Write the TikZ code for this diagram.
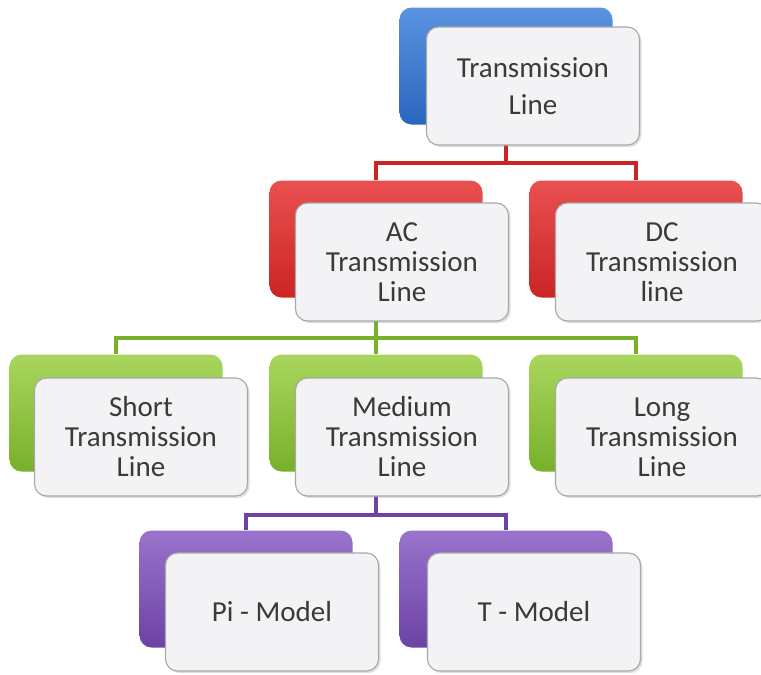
\documentclass[tikz,border=0pt]{standalone}
\usepackage{fontspec}
\setmainfont{Carlito}
\usetikzlibrary{positioning, shadows}

\definecolor{tlblue}{HTML}{2A66BE}
\definecolor{tlbluetop}{HTML}{5A93E0}
\definecolor{tlred}{HTML}{CC2424}
\definecolor{tlredtop}{HTML}{EA5050}
\definecolor{tlgreen}{HTML}{78B02A}
\definecolor{tlgreentop}{HTML}{A9D65E}
\definecolor{tlpurple}{HTML}{6C42A4}
\definecolor{tlpurpletop}{HTML}{9A73CC}
\definecolor{paper}{HTML}{F3F3F5}
\definecolor{framegray}{HTML}{A8A8A8}
\definecolor{ink}{HTML}{3A3A3A}

\begin{document}
\begin{tikzpicture}[
    x=1pt, y=-1pt,
    back/.style={rounded corners=12pt, minimum width=213pt,
        minimum height=117pt, inner sep=0pt},
    front/.style={draw=framegray, line width=1.1pt, fill=paper,
        rounded corners=12pt, minimum width=213pt, minimum height=118pt,
        align=center, text=ink, font=\fontsize{29}{30}\selectfont,
        drop shadow={opacity=0.25, shadow xshift=2pt, shadow yshift=-2pt}},
    link/.style={line width=3.6pt}
  ]
  \path[use as bounding box, fill=white] (0,0) rectangle (761,675);

  % coloured boxes behind
  \node[back, top color=tlbluetop, bottom color=tlblue] (rootb) at (506,66) {};
  \node[back, top color=tlredtop, bottom color=tlred] (acb) at (376,239) {};
  \node[back, top color=tlredtop, bottom color=tlred] (dcb) at (636,239) {};
  \node[back, top color=tlgreentop, bottom color=tlgreen] (shortb) at (116,413) {};
  \node[back, top color=tlgreentop, bottom color=tlgreen] (medb) at (376,413) {};
  \node[back, top color=tlgreentop, bottom color=tlgreen] (longb) at (636,413) {};
  \node[back, top color=tlpurpletop, bottom color=tlpurple] (pib) at (246,589) {};
  \node[back, top color=tlpurpletop, bottom color=tlpurple] (tb) at (506,589) {};

  % connectors
  \coordinate (bar1) at (0,163);
  \coordinate (bar2) at (0,338);
  \coordinate (bar3) at (0,515);
  \draw[link, tlred] (rootb.center) -- (rootb.center |- bar1) -| (acb.north);
  \draw[link, tlred] (rootb.center |- bar1) -| (dcb.north);
  \draw[link, tlgreen] (acb.center) -- (acb.center |- bar2) -| (shortb.north);
  \draw[link, tlgreen] (acb.center |- bar2) -| (medb.north);
  \draw[link, tlgreen] (acb.center |- bar2) -| (longb.north);
  \draw[link, tlpurple] (medb.center) -- (medb.center |- bar3) -| (pib.north);
  \draw[link, tlpurple] (medb.center |- bar3) -| (tb.north);

  % white boxes in front
  \node[front] (root) at ([shift={(27,20)}]rootb.center) {Transmission\\[7pt]Line};
  \node[front] (ac) at ([shift={(26,23)}]acb.center) {AC\\Transmission\\Line};
  \node[front] (dc) at ([shift={(26,23)}]dcb.center) {DC\\Transmission\\line};
  \node[front] (short) at ([shift={(25,24)}]shortb.center) {Short\\Transmission\\Line};
  \node[front] (med) at ([shift={(26,24)}]medb.center) {Medium\\Transmission\\Line};
  \node[front] (long) at ([shift={(26,24)}]longb.center) {Long\\Transmission\\Line};
  \node[front] (pi) at ([shift={(26,23)}]pib.center) {Pi - Model};
  \node[front] (tmod) at ([shift={(28,23)}]tb.center) {T - Model};
\end{tikzpicture}
\end{document}
